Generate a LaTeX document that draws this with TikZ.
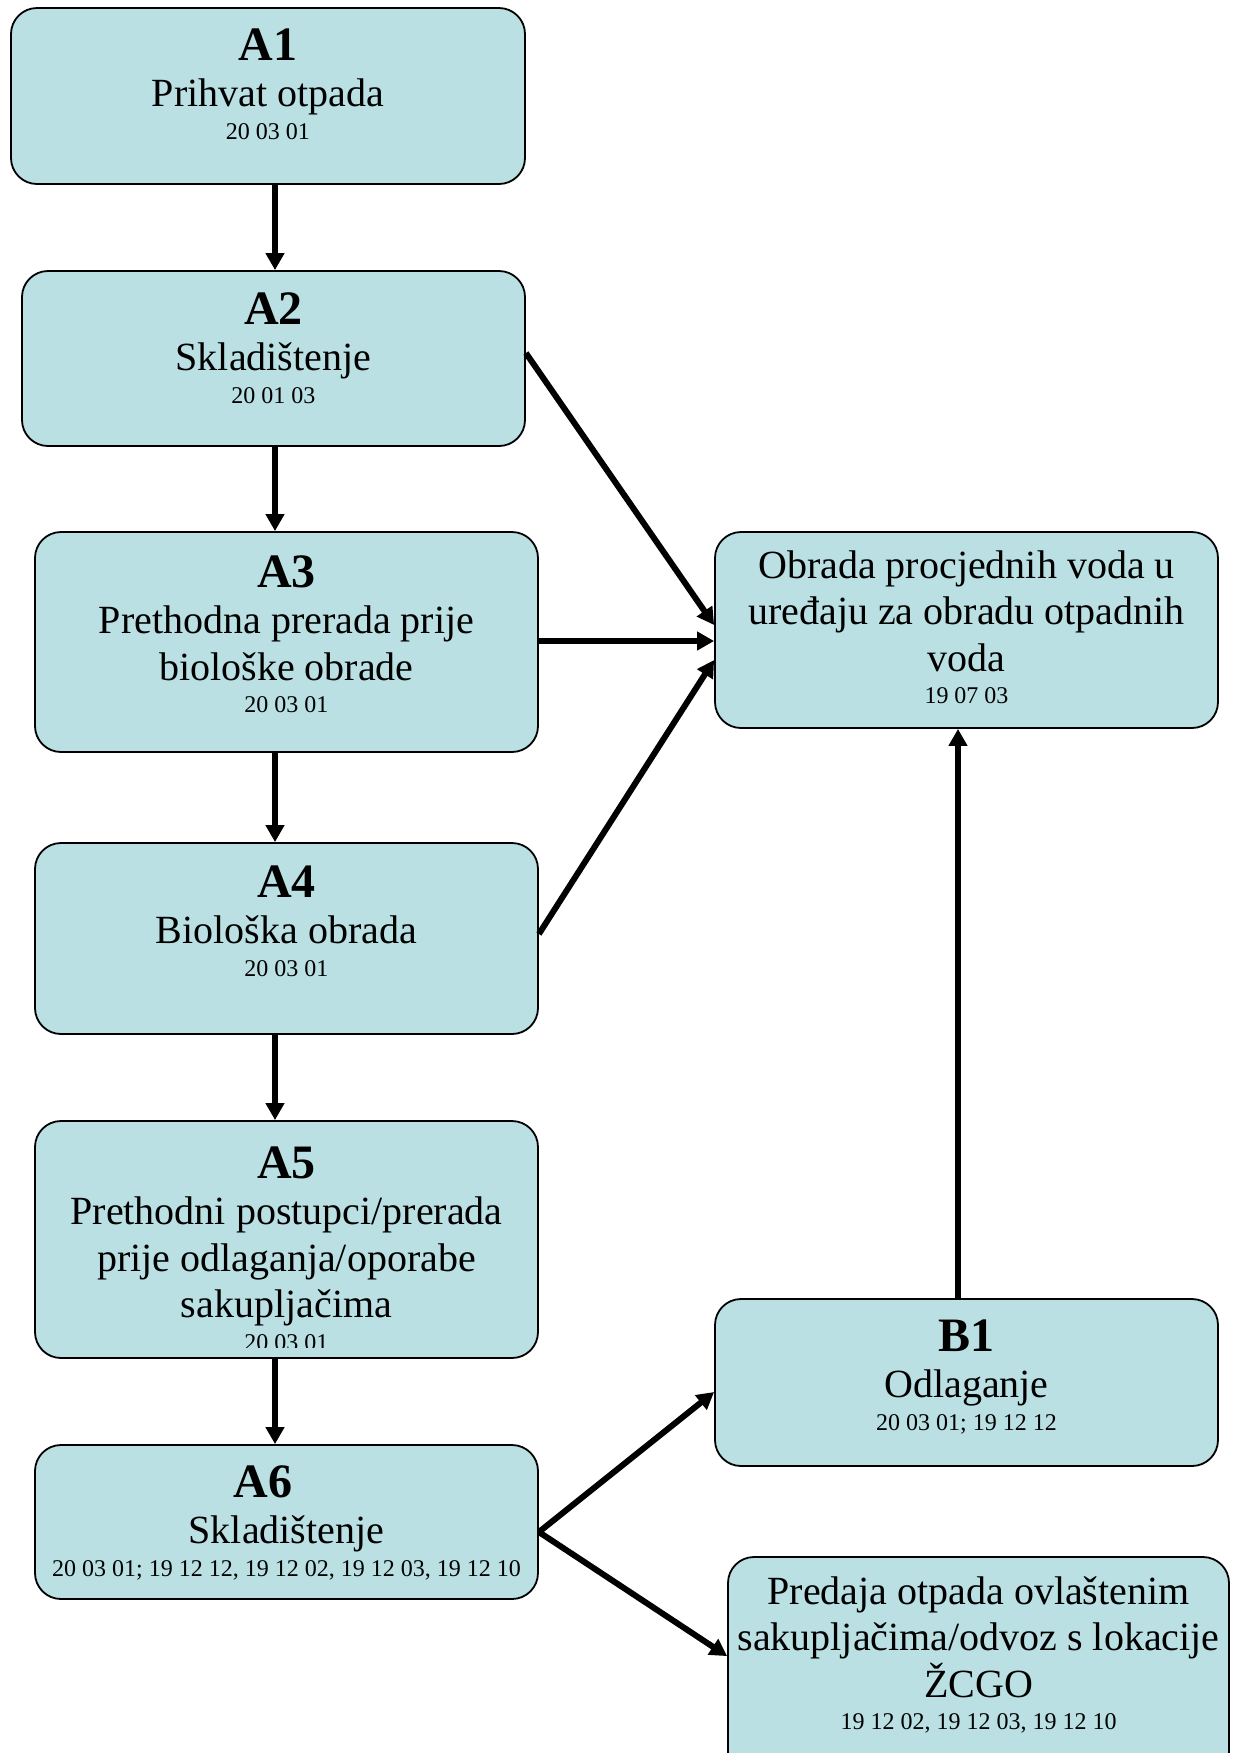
\documentclass[tikz,border=0pt]{standalone}
\usepackage{fontspec}
\setmainfont{Liberation Serif}
\usetikzlibrary{arrows.meta}
\definecolor{boxfill}{RGB}{186,224,227}
\newcommand\mytitle[1]{{\fontsize{24}{24}\selectfont\bfseries #1\par}}
\newcommand\mymain[1]{{\fontsize{20}{23.25}\selectfont #1\par}}
\newcommand\mycode[1]{{\fontsize{12}{16.25}\selectfont #1\par}}
\newcommand\mybox[1]{\parbox[t]{320pt}{\centering #1}}
\begin{document}
\begin{tikzpicture}[x=0.5pt,y=-0.5pt,
  box/.style 2 args={draw=black, line width=0.9pt, fill=boxfill, rounded corners=13pt,
                     inner sep=0pt, minimum width=#1, minimum height=#2},
  txt/.style={anchor=base, inner sep=0pt},
  arr/.style={line width=3pt, -{Triangle[length=8.5pt,width=9pt]}}]
\useasboundingbox (0,0) rectangle (1235,1753);

% boxes
\node[box={257pt}{88pt}]     (A1) at (268,96) {};
\node[box={251.5pt}{87.5pt}] (A2) at (273.5,358.5) {};
\node[box={251.5pt}{110pt}]  (A3) at (286.5,642) {};
\node[box={251.5pt}{95.5pt}] (A4) at (286.5,938.5) {};
\node[box={251.5pt}{118.5pt}](A5) at (286.5,1239.5) {};
\node[box={251.5pt}{77pt}]   (A6) at (286.5,1522) {};
\node[box={251.5pt}{98pt}]   (W)  at (966.5,630) {};
\node[box={251.5pt}{83.5pt}] (B1) at (966.5,1382.5) {};
\node[box={250.5pt}{116.5pt}](P)  at (978.5,1673.5) {};

% texts
\node[txt] (tA1) at ([yshift=-26.5pt]A1.north) {\mybox{\mytitle{A1}\mymain{Prihvat otpada}\mycode{20 03 01}}};
\node[txt] (tA2) at ([yshift=-27pt]A2.north) {\mybox{\mytitle{A2}\mymain{Skladištenje}\mycode{20 01 03}}};
\node[txt] (tA3) at ([yshift=-28pt]A3.north) {\mybox{\mytitle{A3}\mymain{Prethodna prerada prije\\biološke obrade}\mycode{20 03 01}}};
\node[txt] (tA4) at ([yshift=-27.5pt]A4.north) {\mybox{\mytitle{A4}\mymain{Biološka obrada}\mycode{20 03 01}}};
\begin{scope}
\clip (A5.north west) rectangle ([yshift=5.5pt]A5.south east);
\node[txt] (tA5) at ([yshift=-29pt]A5.north) {\mybox{\mytitle{A5}\mymain{Prethodni postupci/prerada\\prije odlaganja/oporabe\\sakupljačima}\mycode{20 03 01}}};
\end{scope}
\node[txt] (tA6) at ([yshift=-26.5pt]A6.north) {\mybox{\mytitle{A6\hspace*{23.5pt}}\mymain{Skladištenje}\mycode{20 03 01; 19 12 12, 19 12 02, 19 12 03, 19 12 10}}};
\node[txt] (tW) at ([yshift=-23.5pt]W.north) {\mybox{\mymain{Obrada procjednih voda u\\uređaju za obradu otpadnih\\voda}\mycode{19 07 03}}};
\node[txt] (tB1) at ([yshift=-26.5pt]B1.north) {\mybox{\mytitle{B1}\mymain{Odlaganje}\mycode{20 03 01; 19 12 12}}};
\node[txt] (tP) at ([yshift=-24pt]P.north) {\mybox{\mymain{Predaja otpada ovlaštenim\\sakupljačima/odvoz s lokacije\\ŽCGO}\mycode{19 12 02, 19 12 03, 19 12 10}}};

% connectors
\coordinate (vx) at (275,0);
\coordinate (vb) at (958,0);
\draw[arr] (A1.south -| vx) -- (A2.north -| vx);
\draw[arr] (A2.south -| vx) -- (A3.north -| vx);
\draw[arr] (A3.south -| vx) -- (A4.north -| vx);
\draw[arr] (A4.south -| vx) -- (A5.north -| vx);
\draw[arr] (A5.south -| vx) -- (A6.north -| vx);

\coordinate (W2) at ([yshift=2.5pt]W.west);
\coordinate (W3) at ([yshift=-5.5pt]W.west);
\coordinate (W4) at ([yshift=-15pt]W.west);
\draw[arr] ([yshift=2.75pt]A2.east) -- (W2);
\draw[arr] (A3.east |- W3) -- (W3);
\draw[arr] ([yshift=2.25pt]A4.east) -- (W4);
\draw[arr] (B1.north -| vb) -- (W.south -| vb);

\coordinate (A6out) at ([yshift=-5pt]A6.east);
\draw[arr] (A6out) -- ([yshift=-4.75pt]B1.west);
\draw[arr] (A6out) -- ([yshift=-50pt]P.north west);
\end{tikzpicture}
\end{document}
